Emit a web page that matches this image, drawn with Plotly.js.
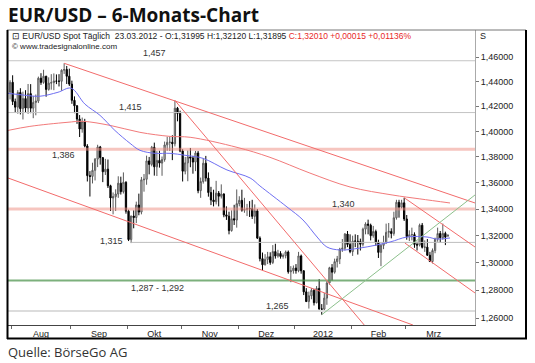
<!DOCTYPE html>
<html><head><meta charset="utf-8">
<script src="https://cdn.plot.ly/plotly-3.0.1.min.js"></script>
<style>html,body{margin:0;padding:0;background:#fff}#c{width:535px;height:363px}</style>
</head><body><div id="c"></div>
<script>
// ---- data: daily EUR/USD candles, 29.07.2011 .. 23.03.2012 (one entry per trading day) ----
const openP = [1.4315,
1.4394,1.4238,1.4193,1.4311,1.4181,1.4262,1.4186,1.4302,1.4185,1.4231,1.4242,1.4427,1.4393,1.4443,1.4336,1.4387,1.4391,1.4404,1.4403,1.4402,1.4492,1.4498,1.4443,
1.4379,1.4248,1.4204,1.4098,1.4019,1.4079,1.3885,1.3655,1.3649,1.3696,1.3783,1.3878,1.3795,1.3685,1.3705,1.3577,1.3484,1.3494,1.3514,1.3597,1.3532,1.3604,
1.3384,1.3171,1.3347,1.3336,1.3431,1.3377,1.3623,1.3627,1.3769,1.3742,1.3875,1.3723,1.3773,1.3752,1.3780,1.3894,1.3914,1.3915,1.3903,1.4185,1.4143,
1.3846,1.3689,1.3754,1.3800,1.3791,1.3760,1.3831,1.3540,1.3610,1.3751,1.3636,1.3525,1.3468,1.3456,1.3521,1.3497,1.3514,1.3356,1.3346,1.3238,1.3327,1.3317,
1.3441,1.3466,1.3391,1.3396,1.3404,1.3402,1.3345,1.3386,1.3182,1.3030,1.2985,1.3024,1.3044,1.3002,1.3082,1.3049,1.3068,1.3046,1.3052,1.3079,1.2934,1.2941,
1.2961,1.2942,1.3050,1.2941,1.2788,1.2718,1.2760,1.2799,1.2710,1.2813,1.2665,1.2664,1.2743,1.2852,1.2963,1.2931,1.3008,1.3028,1.3100,1.3107,1.3212,1.3135,
1.3082,1.3160,1.3159,1.3156,1.3136,1.3249,1.3287,1.3278,1.3200,1.3231,1.3152,1.3076,1.3128,1.3147,1.3225,1.3232,1.3216,1.3334,1.3451,1.3414,1.3447,
1.3325,1.3193,1.3207,1.3208,1.3135,1.3130,1.3278,1.3114,1.3115,1.3055,1.3009,1.3090,1.3174,1.3216,1.3185,1.3217,1.31995];
const highP = [1.4411,
1.4451,1.4262,1.4330,1.4346,1.4318,1.4330,1.4380,1.4379,1.4283,1.4295,1.4440,1.4468,1.4496,1.4447,1.4434,1.4460,1.4466,1.4458,1.4460,1.4500,1.4549,1.4527,1.4505,
1.4407,1.4280,1.4210,1.4130,1.4110,1.4100,1.3900,1.3690,1.3755,1.3791,1.3895,1.3886,1.3795,1.3785,1.3780,1.3585,1.3526,1.3550,1.3650,1.3647,1.3680,1.3612,
1.3395,1.3350,1.3390,1.3456,1.3517,1.3645,1.3667,1.3810,1.3800,1.3886,1.3912,1.3845,1.3848,1.3803,1.3920,1.3958,1.3960,1.3970,1.4247,1.4195,1.4165,
1.3860,1.3800,1.3850,1.3870,1.3808,1.3847,1.3847,1.3640,1.3790,1.3808,1.3680,1.3569,1.3547,1.3615,1.3537,1.3588,1.3520,1.3420,1.3380,1.3390,1.3432,1.3549,
1.3497,1.3547,1.3485,1.3439,1.3460,1.3470,1.3435,1.3400,1.3195,1.3075,1.3063,1.3080,1.3077,1.3130,1.3140,1.3095,1.3085,1.3068,1.3090,1.3090,1.2975,1.2980,
1.2990,1.3080,1.3060,1.2945,1.2815,1.2790,1.2815,1.2810,1.2830,1.2880,1.2700,1.2780,1.2865,1.2970,1.2990,1.3030,1.3050,1.3110,1.3175,1.3220,1.3235,1.3210,
1.3200,1.3210,1.3205,1.3178,1.3260,1.3300,1.3320,1.3290,1.3273,1.3245,1.3170,1.3140,1.3200,1.3290,1.3295,1.3255,1.3380,1.3470,1.3470,1.3470,1.3486,
1.3355,1.3240,1.3260,1.3225,1.3155,1.3290,1.3295,1.3165,1.3175,1.3080,1.3105,1.3185,1.3260,1.3235,1.3290,1.3230,1.3212];
const lowP = [1.4255,
1.4210,1.4148,1.4141,1.4135,1.4095,1.4150,1.4140,1.4145,1.4105,1.4128,1.4226,1.4373,1.4382,1.4277,1.4326,1.4334,1.4330,1.4379,1.4360,1.4325,1.4462,1.4380,1.4364,
1.4220,1.4145,1.4060,1.3956,1.3990,1.3875,1.3610,1.3495,1.3595,1.3618,1.3721,1.3740,1.3605,1.3660,1.3560,1.3385,1.3360,1.3385,1.3485,1.3510,1.3518,1.3365,
1.3160,1.3145,1.3255,1.3294,1.3353,1.3360,1.3532,1.3585,1.3665,1.3727,1.3655,1.3652,1.3717,1.3654,1.3763,1.3848,1.3846,1.3775,1.3882,1.4080,1.3837,
1.3610,1.3665,1.3612,1.3720,1.3670,1.3690,1.3520,1.3485,1.3594,1.3610,1.3494,1.3430,1.3420,1.3435,1.3420,1.3480,1.3338,1.3318,1.3210,1.3230,1.3280,1.3260,
1.3420,1.3380,1.3372,1.3347,1.3340,1.3325,1.3290,1.3175,1.3010,1.2945,1.2980,1.2990,1.2985,1.2990,1.3030,1.3037,1.3030,1.3030,1.3032,1.2920,1.2858,1.2920,
1.2920,1.2930,1.2920,1.2765,1.2715,1.2668,1.2735,1.2690,1.2705,1.2660,1.2624,1.2650,1.2695,1.2840,1.2870,1.2920,1.2965,1.2990,1.3080,1.3090,1.3115,1.3070,
1.3050,1.3115,1.3060,1.3090,1.3120,1.3210,1.3210,1.3165,1.3185,1.3125,1.3035,1.2975,1.3100,1.3140,1.3185,1.3180,1.3200,1.3320,1.3335,1.3405,1.3310,
1.3170,1.3160,1.3165,1.3110,1.3090,1.3120,1.3105,1.3080,1.3050,1.3005,1.2995,1.3070,1.3155,1.3150,1.3170,1.3130,1.31895];
const closeP = [1.4394,
1.4238,1.4193,1.4311,1.4181,1.4262,1.4186,1.4302,1.4185,1.4231,1.4242,1.4427,1.4393,1.4443,1.4336,1.4387,1.4391,1.4404,1.4403,1.4402,1.4492,1.4498,1.4443,1.4379,
1.4248,1.4204,1.4098,1.4019,1.4079,1.3885,1.3655,1.3649,1.3696,1.3783,1.3878,1.3795,1.3685,1.3705,1.3577,1.3484,1.3494,1.3514,1.3597,1.3532,1.3604,1.3384,
1.3171,1.3347,1.3336,1.3431,1.3377,1.3623,1.3627,1.3769,1.3742,1.3875,1.3723,1.3773,1.3752,1.3780,1.3894,1.3914,1.3915,1.3903,1.4185,1.4143,1.3846,
1.3689,1.3754,1.3800,1.3791,1.3760,1.3831,1.3540,1.3610,1.3751,1.3636,1.3525,1.3468,1.3456,1.3521,1.3497,1.3514,1.3356,1.3346,1.3238,1.3327,1.3317,1.3441,
1.3466,1.3391,1.3396,1.3404,1.3402,1.3345,1.3386,1.3182,1.3030,1.2985,1.3024,1.3044,1.3002,1.3082,1.3049,1.3068,1.3046,1.3052,1.3079,1.2934,1.2941,1.2961,
1.2942,1.3050,1.2941,1.2788,1.2718,1.2760,1.2799,1.2710,1.2813,1.2665,1.2664,1.2743,1.2852,1.2963,1.2931,1.3008,1.3028,1.3100,1.3107,1.3212,1.3135,1.3082,
1.3160,1.3159,1.3156,1.3136,1.3249,1.3287,1.3278,1.3200,1.3231,1.3152,1.3076,1.3128,1.3147,1.3225,1.3232,1.3216,1.3334,1.3451,1.3414,1.3447,1.3325,
1.3193,1.3207,1.3208,1.3135,1.3130,1.3278,1.3114,1.3115,1.3055,1.3009,1.3090,1.3174,1.3216,1.3185,1.3217,1.3189,1.3201];

// trading-day index of first day of each month (Aug 1 = 0); last value = end of March
const months = ['Aug','Sep','Okt','Nov','Dez','2012','Feb','Mrz'];
const monthStart = [0,23,45,66,88,110,132,153,175];

// price axis ticks
const yTickVals = [1.26,1.28,1.30,1.32,1.34,1.36,1.38,1.40,1.42,1.44,1.46];
const yTickText = ['1,26000','1,28000','1,30000','1,32000','1,34000','1,36000','1,38000','1,40000','1,42000','1,44000','1,46000'];

// moving averages (day index, price)
const maBlueX = [-1.8,4.8,10.6,17.6,22.7,28.1,33.9,39.7,45.6,49.4,55.3,61.1,66.9,73.9,83.2,92.2,96,106.5,112.7,118.2,122,127.1,134.8,146.5,153.1,160.9,164.7,169.8];
const maBlueY = [1.4305,1.4289,1.4281,1.4313,1.4346,1.4217,1.4128,1.4008,1.3906,1.3852,1.3828,1.3828,1.3813,1.3789,1.3699,1.3637,1.3576,1.3416,1.3318,1.3190,1.3116,1.3094,1.3108,1.3153,1.3190,1.3190,1.3175,1.3183];
const maRedX = [-1.8,6.7,21.1,27.3,37.8,49.4,61.1,68.9,87.1,99.9,115.4,131,147.3,158.1,169.8];
const maRedY = [1.4008,1.4040,1.4072,1.4080,1.4048,1.3993,1.3961,1.3954,1.3875,1.3797,1.3675,1.3568,1.3507,1.3477,1.3446];

// trend lines (day index, price) start/end
const trendRed = [
  {x:[20,179.5], y:[1.4549,1.3446]},
  {x:[63,136.5], y:[1.4247,1.2551]},
  {x:[-1.8,155.4], y:[1.3637,1.2551]},
  {x:[152,179.5], y:[1.3486,1.3116]},
  {x:[152.3,179.5], y:[1.3145,1.2780]}
];
const trendGreen = {x:[120,179.5], y:[1.2624,1.3507]};

// horizontal levels
const levelVals = [1.457, 1.415, 1.386, 1.340, 1.315, 1.287, 1.265];
const levelText = ['1,457','1,415','1,386','1,340','1,315','1,287 - 1,292','1,265'];
const levelStart = [-1.8,-1.8,-1.8,-1.8,46,-1.8,-1.8];

// ---- drawing ----
const X0 = -1.8, X1 = 179.5;
const xIdx = openP.map((_, i) => i - 1);
const PL=8, PR=475, PT=30, PB=325;
const px = X => (X-PL)/(PR-PL);
const py = Y => (PB-Y)/(PB-PT);

const levelStyle = [
  {color:'#c4c4c4', width:1},
  {color:'#c4c4c4', width:1},
  {color:'rgba(238,140,128,0.5)', width:3},
  {color:'rgba(238,140,128,0.5)', width:3},
  {color:'#bdbdbd', width:1},
  {color:'rgba(80,150,80,0.75)', width:2},
  {color:'#dcdcdc', width:2}
];
const labelPos = [[154,53],[130,107],[63,155],[343,204],[111,241],[157,288],[277,306]];

const traces = [];
levelVals.forEach((v,i)=>{
  traces.push({type:'scatter', mode:'lines', x:[levelStart[i], X1], y:[v,v],
    line:levelStyle[i], hoverinfo:'skip'});
});
traces.push({type:'candlestick', x:xIdx, open:openP, high:highP, low:lowP, close:closeP,
  increasing:{line:{color:'#5a5a5a', width:1}, fillcolor:'#d6d6d6'},
  decreasing:{line:{color:'#000000', width:1}, fillcolor:'#000000'},
  whiskerwidth:0, hoverinfo:'skip'});
traces.push({type:'scatter', mode:'lines', x:maRedX, y:maRedY, line:{color:'#f27a7a', width:1, shape:'spline'}, hoverinfo:'skip'});
traces.push({type:'scatter', mode:'lines', x:maBlueX, y:maBlueY, line:{color:'#6f6ff2', width:1, shape:'spline'}, hoverinfo:'skip'});
trendRed.forEach(t=>traces.push({type:'scatter', mode:'lines', x:t.x, y:t.y, line:{color:'#f26b6b', width:1}, hoverinfo:'skip'}));
traces.push({type:'scatter', mode:'lines', x:trendGreen.x, y:trendGreen.y, line:{color:'#8cc08c', width:1}, hoverinfo:'skip'});

const boundaries = monthStart.slice(0,-1).map(v=>v-0.5);
const labelX = months.map((m,i)=>(monthStart[i]+monthStart[i+1])/2-0.5);

const F = 'Liberation Sans, Arial, sans-serif';
const ann = [];
ann.push({xref:'paper', yref:'paper', x:px(6), y:py(15), xanchor:'left', yanchor:'middle', showarrow:false,
  text:'<b>EUR/USD – 6-Monats-Chart</b>', font:{family:'Open Sans, sans-serif', size:19, color:'#111'}});
ann.push({xref:'paper', yref:'paper', x:px(10), y:py(36), xanchor:'left', yanchor:'middle', showarrow:false,
  text:'⊡ EUR/USD Spot Täglich  23.03.2012 - O:1,31995 H:1,32120 L:1,31895 <span style="color:#e82828">C:1,32010 +0,00015 +0,01136%</span>',
  font:{family:F, size:8.5, color:'#222'}});
ann.push({xref:'paper', yref:'paper', x:px(10), y:py(46.5), xanchor:'left', yanchor:'middle', showarrow:false,
  text:'© www.tradesignalonline.com', font:{family:F, size:8, color:'#222'}});
ann.push({xref:'paper', yref:'paper', x:px(478), y:py(36), xanchor:'left', yanchor:'middle', showarrow:false,
  text:'S', font:{family:F, size:9, color:'#222'}});
levelText.forEach((t,i)=>ann.push({xref:'paper', yref:'paper', x:px(labelPos[i][0]), y:py(labelPos[i][1]),
  xanchor:'center', yanchor:'middle', showarrow:false, text:t, font:{family:F, size:9, color:'#333'}}));
ann.push({xref:'paper', yref:'paper', x:px(6), y:py(352), xanchor:'left', yanchor:'middle', showarrow:false,
  text:'Quelle: BörseGo AG', font:{family:'Open Sans, sans-serif', size:13, color:'#333'}});

const shapes = [
  {type:'line', xref:'paper', yref:'paper', x0:px(7), x1:px(526), y0:py(30), y1:py(30), line:{color:'#777', width:1}},
  {type:'line', xref:'paper', yref:'paper', x0:px(7.5), x1:px(7.5), y0:py(30), y1:py(339), line:{color:'#000', width:2}},
  {type:'line', xref:'paper', yref:'paper', x0:px(7), x1:px(527), y0:py(338.5), y1:py(338.5), line:{color:'#000', width:2}},
  {type:'line', xref:'paper', yref:'paper', x0:px(526), x1:px(526), y0:py(30), y1:py(339), line:{color:'#000', width:2}}
];

const layout = {
  width:535, height:363, margin:{l:PL, r:535-PR, t:PT, b:363-PB},
  paper_bgcolor:'#fff', plot_bgcolor:'#fff', showlegend:false,
  xaxis:{range:[X0,X1], tickmode:'array', tickvals:labelX, ticktext:months, ticks:'',
    showgrid:false, zeroline:false, showline:true, linecolor:'#444', linewidth:1,
    tickfont:{family:F, size:9, color:'#222'},
    minor:{tickmode:'array', tickvals:boundaries, ticks:'outside', ticklen:3, tickcolor:'#666', showgrid:false},
    rangeslider:{visible:false}, fixedrange:true},
  yaxis:{type:'log', side:'right', range:[Math.log10(1.2551), Math.log10(1.4825)],
    tickmode:'array', tickvals:yTickVals, ticktext:yTickText, ticks:'outside', ticklen:3, tickcolor:'#777',
    showgrid:false, zeroline:false, showline:true, linecolor:'#aaa', linewidth:1,
    tickfont:{family:F, size:9, color:'#222'}, fixedrange:true},
  annotations:ann, shapes:shapes
};
Plotly.newPlot('c', traces, layout, {staticPlot:true, displayModeBar:false});
</script></body></html>
